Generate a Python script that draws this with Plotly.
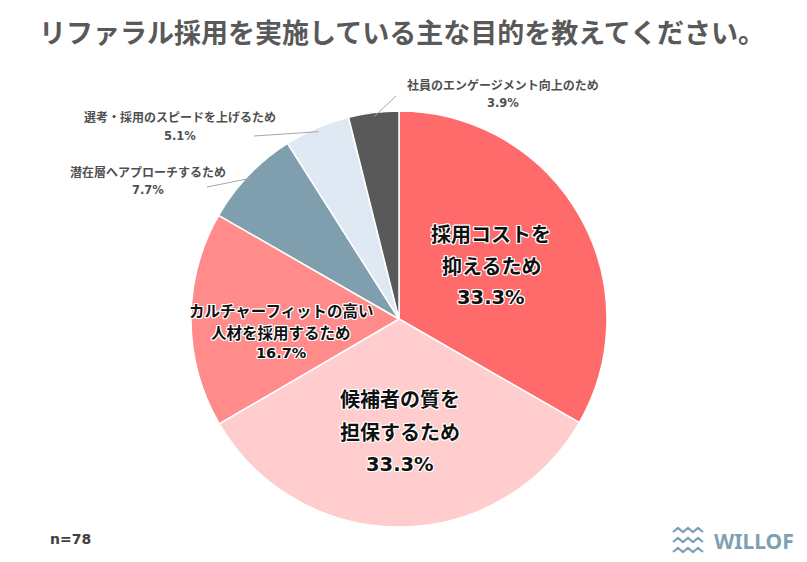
import math
import plotly.graph_objects as go

# ---- data ----
labels = [
    "採用コストを抑えるため",
    "候補者の質を担保するため",
    "カルチャーフィットの高い人材を採用するため",
    "潜在層へアプローチするため",
    "選考・採用のスピードを上げるため",
    "社員のエンゲージメント向上のため",
]
values = [33.3, 33.3, 16.7, 7.7, 5.1, 3.9]
label_lines = [
    ["採用コストを", "抑えるため"],
    ["候補者の質を", "担保するため"],
    ["カルチャーフィットの高い", "人材を採用するため"],
    ["潜在層へアプローチするため"],
    ["選考・採用のスピードを上げるため"],
    ["社員のエンゲージメント向上のため"],
]
colors = ["#FF6B6B", "#FFCDCD", "#FF8B8B", "#7F9FAF", "#DEE9F4", "#595959"]
title_text = "リファラル採用を実施している主な目的を教えてください。"
n_text = "n=78"

W, H = 807, 562
FONT = "Noto Sans CJK JP"
NUMFONT = "DejaVu Sans"
OFF = 8  # page body margin offset

# pie geometry (pixels in the reference picture)
cx, cy, R = 399, 319, 208


def px(x):
    return (x - OFF) / W


def py(y):
    return 1 - (y - OFF) / H


fig = go.Figure(
    go.Pie(
        labels=labels,
        values=values,
        sort=False,
        direction="clockwise",
        rotation=0,
        marker=dict(colors=colors, line=dict(color="white", width=1.5)),
        textinfo="none",
        hoverinfo="label+percent",
        showlegend=False,
        domain=dict(x=[px(cx - R), px(cx + R)], y=[py(cy + R), py(cy - R)]),
    )
)

shadow = ("1px 1px 0 white, -1px -1px 0 white, 1px -1px 0 white, -1px 1px 0 white, "
          "0 1px 0 white, 0 -1px 0 white, 1px 0 0 white, -1px 0 0 white")

annotations = []

# inside labels: (center x, first-line y, line step, font size, pct font size)
inside_cfg = {
    0: (491, 233, 32, 20, 19.5),
    1: (400, 398, 33, 20, 19.5),
    2: (281, 310, 21.5, 15.5, 14.5),
}
for i, (x0, y0, step, fs, pfs) in inside_cfg.items():
    lines = label_lines[i] + [f"{values[i]:.1f}%"]
    for k, t in enumerate(lines):
        is_pct = k == len(lines) - 1
        annotations.append(dict(
            x=px(x0), y=py(y0 + k * step), xref="paper", yref="paper",
            text=f"<b>{t}</b>", showarrow=False, xanchor="center", yanchor="middle",
            borderpad=0,
            font=dict(family=NUMFONT if is_pct else FONT, size=pfs if is_pct else fs,
                      color="#111111", shadow=shadow),
        ))

# outside labels: (center x, first-line y, leader end x, leader end y)
outside_cfg = {
    3: (148, 171, 207, 187),
    4: (180, 117, 254, 136),
    5: (503, 84, 396, 96),
}
cum = 0
mids = []
for v in values:
    mids.append((cum + v / 2) / sum(values) * 360)
    cum += v

shapes = []
for i, (x0, y0, ex, ey) in outside_cfg.items():
    lines = label_lines[i] + [f"{values[i]:.1f}%"]
    for k, t in enumerate(lines):
        is_pct = k == len(lines) - 1
        annotations.append(dict(
            x=px(x0), y=py(y0 + k * 18.5), xref="paper", yref="paper",
            text=f"<b>{t}</b>", showarrow=False, xanchor="center", yanchor="middle",
            borderpad=0,
            font=dict(family=NUMFONT if is_pct else FONT, size=11.5 if is_pct else 12,
                      color="#505050"),
        ))
    a = math.radians(mids[i])
    sx = cx + R * 0.98 * math.sin(a)
    sy = cy - R * 0.98 * math.cos(a)
    shapes.append(dict(type="line", xref="paper", yref="paper",
                       x0=px(sx), y0=py(sy), x1=px(ex), y1=py(ey),
                       line=dict(color="#A6A6A6", width=1)))

# title
annotations.append(dict(
    x=px(402), y=py(32), xref="paper", yref="paper", text=f"<b>{title_text}</b>",
    showarrow=False, xanchor="center", yanchor="middle",
    font=dict(family=FONT, size=27, color="#595959"),
))
# n
annotations.append(dict(
    x=px(48), y=py(539), xref="paper", yref="paper", text=f"<b>{n_text}</b>",
    showarrow=False, xanchor="left", yanchor="middle",
    font=dict(family=NUMFONT, size=14, color="#404040"),
))
# logo text
annotations.append(dict(
    x=px(712), y=py(541), xref="paper", yref="paper", text="<b>WILLOF</b>",
    showarrow=False, xanchor="left", yanchor="middle",
    font=dict(family="Noto Sans", size=21, color="#7F9FB4"),
))
# logo waves
for j in range(3):
    yb = 532 + j * 10
    pts = []
    for m in range(7):
        xx = 673 + m * 5
        yy = yb + (0 if m % 2 == 0 else -4)
        pts.append(f"{px(xx)},{py(yy)}")
    path = "M " + " L ".join(pts)
    shapes.append(dict(type="path", xref="paper", yref="paper", path=path,
                       line=dict(color="#7F9FB4", width=2.2)))

fig.update_layout(
    width=W, height=H,
    margin=dict(l=0, r=0, t=0, b=0),
    paper_bgcolor="white", plot_bgcolor="white",
    annotations=annotations, shapes=shapes,
    font=dict(family=FONT),
)

fig.write_html("out.html")
